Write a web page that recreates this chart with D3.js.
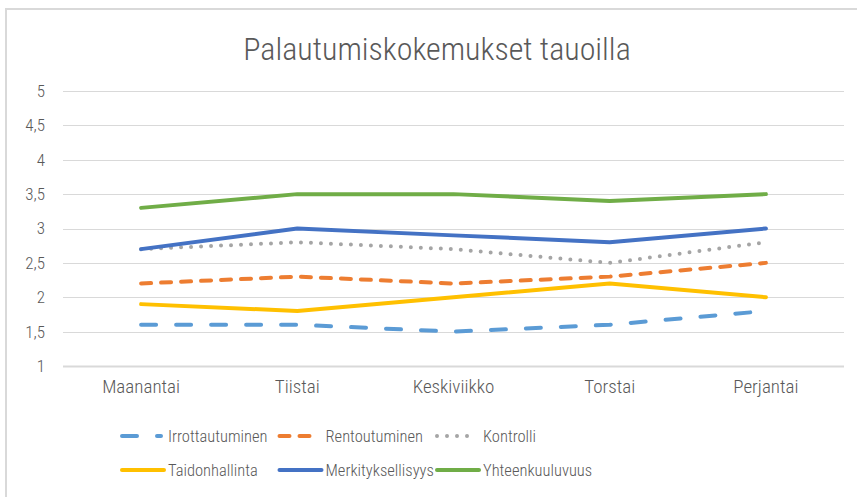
<!DOCTYPE html>
<html>
<head>
<meta charset="utf-8">
<script src="https://cdn.jsdelivr.net/npm/d3@7"></script>
<style>
  body { margin: 0; background: #fff; }
  svg { display: block; font-family: "Liberation Sans Narrow", "Roboto Condensed", "DejaVu Sans Condensed", sans-serif; font-weight: 300; }
</style>
</head>
<body>
<svg id="chart" width="857" height="497"></svg>
<script>
// Chart data
const days = ['Maanantai', 'Tiistai', 'Keskiviikko', 'Torstai', 'Perjantai'];
const seriesNames = ['Irrottautuminen', 'Rentoutuminen', 'Kontrolli', 'Taidonhallinta', 'Merkityksellisyys', 'Yhteenkuuluvuus'];
const irrottautuminen = [1.6, 1.6, 1.5, 1.6, 1.8];
const rentoutuminen = [2.2, 2.3, 2.2, 2.3, 2.5];
const kontrolli = [2.7, 2.8, 2.7, 2.5, 2.8];
const taidonhallinta = [1.9, 1.8, 2.0, 2.2, 2.0];
const merkityksellisyys = [2.7, 3.0, 2.9, 2.8, 3.0];
const yhteenkuuluvuus = [3.3, 3.5, 3.5, 3.4, 3.5];
const yTicks = [1, 1.5, 2, 2.5, 3, 3.5, 4, 4.5, 5];

const seriesValues = [irrottautuminen, rentoutuminen, kontrolli, taidonhallinta, merkityksellisyys, yhteenkuuluvuus];
const colors = ['#5b9bd5', '#ed7d31', '#a5a5a5', '#ffc000', '#4472c4', '#70ad47'];
const dashes = ['15,20', '10,10', '0,10', null, null, null];
const widths = [4, 4, 4, 4, 4, 4];

const series = seriesNames.map((name, i) => ({
  name: name, values: seriesValues[i], color: colors[i], dash: dashes[i], width: widths[i]
}));

const svg = d3.select('#chart');
const textColor = '#595959';

// chart border (runs off the right/bottom edge like the screenshot)
svg.append('rect')
    .attr('x', 6).attr('y', 9)
    .attr('width', 900).attr('height', 600)
    .attr('fill', 'none')
    .attr('stroke', '#d9d9d9')
    .attr('stroke-width', 2);

svg.append('text')
    .attr('x', 437).attr('y', 60)
    .attr('text-anchor', 'middle')
    .attr('fill', textColor)
    .attr('font-size', 32)
    .text('Palautumiskokemukset tauoilla');

const x = d3.scaleBand().domain(days).range([63, 844]);
const y = d3.scaleLinear().domain([1, 5]).range([366, 91]);

// gridlines
svg.append('g')
    .selectAll('line')
    .data(yTicks)
    .join('line')
    .attr('x1', 63).attr('x2', 844)
    .attr('y1', d => Math.round(y(d)) + 0.5)
    .attr('y2', d => Math.round(y(d)) + 0.5)
    .attr('stroke', '#d9d9d9')
    .attr('stroke-width', d => d === 1 ? 2 : 1);

// y tick labels
const yAxis = svg.append('g')
    .attr('transform', 'translate(63,0)')
    .call(d3.axisLeft(y).tickValues(yTicks).tickSize(0).tickPadding(18)
        .tickFormat(d => String(d).replace('.', ',')))
    .attr('font-family', null)
    .attr('font-size', 17);
yAxis.select('.domain').remove();
yAxis.selectAll('text').attr('fill', textColor);

// x labels
const xAxis = svg.append('g')
    .attr('transform', 'translate(0,366)')
    .call(d3.axisBottom(x).tickSize(0).tickPadding(14))
    .attr('font-family', null)
    .attr('font-size', 19);
xAxis.select('.domain').remove();
xAxis.selectAll('text').attr('fill', textColor);

// lines
const line = d3.line()
    .x((d, i) => x(days[i]) + x.bandwidth() / 2)
    .y(d => y(d));

svg.append('g')
    .selectAll('path')
    .data(series)
    .join('path')
    .attr('d', d => line(d.values))
    .attr('fill', 'none')
    .attr('stroke', d => d.color)
    .attr('stroke-width', d => d.width)
    .attr('stroke-linecap', 'round')
    .attr('stroke-linejoin', 'round')
    .attr('stroke-dasharray', d => d.dash);

// legend, two rows of three
const legend = svg.append('g')
    .selectAll('g')
    .data(series)
    .join('g')
    .attr('transform', (d, i) => `translate(${122 + (i % 3) * 157.5},${436 + Math.floor(i / 3) * 34})`);

legend.append('line')
    .attr('x1', 0).attr('x2', d => d.dash ? 39 : 42)
    .attr('stroke', d => d.color)
    .attr('stroke-width', d => d.width)
    .attr('stroke-linecap', 'round')
    .attr('stroke-dasharray', d => d.dash);

legend.append('text')
    .attr('x', 46).attr('y', 6)
    .attr('fill', textColor)
    .attr('font-size', 16.5)
    .text(d => d.name);
</script>
</body>
</html>
